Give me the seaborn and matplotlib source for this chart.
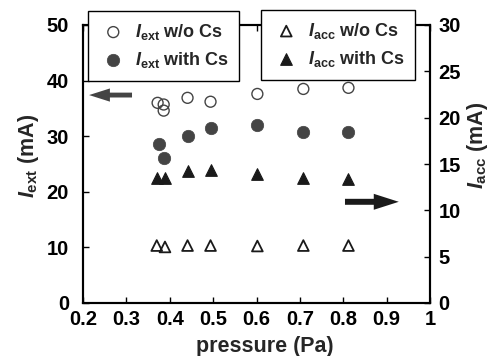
import matplotlib
matplotlib.use("Agg")
import matplotlib.pyplot as plt
import seaborn as sns
import numpy as np

# ---- data ----
p_ext_wo = [0.372, 0.386, 0.386, 0.441, 0.494, 0.602, 0.708, 0.812]
i_ext_wo = [36.0, 35.7, 34.6, 36.9, 36.2, 37.6, 38.5, 38.7]
p_ext_cs = [0.375, 0.386, 0.441, 0.494, 0.602, 0.708, 0.812]
i_ext_cs = [28.6, 26.1, 30.1, 31.5, 32.0, 30.8, 30.8]
p_acc_wo = [0.370, 0.389, 0.441, 0.494, 0.602, 0.708, 0.812]
i_acc_wo = [6.2, 6.05, 6.2, 6.2, 6.15, 6.2, 6.2]
p_acc_cs = [0.370, 0.390, 0.441, 0.494, 0.602, 0.708, 0.812]
i_acc_cs = [13.45, 13.45, 14.2, 14.35, 13.9, 13.5, 13.4]

x_ticks = [0.2, 0.3, 0.4, 0.5, 0.6, 0.7, 0.8, 0.9, 1.0]
x_ticklabels = ["0.2", "0.3", "0.4", "0.5", "0.6", "0.7", "0.8", "0.9", "1"]
left_ticks = [0, 10, 20, 30, 40, 50]
right_ticks = [0, 5, 10, 15, 20, 25, 30]

sns.set_style("ticks")
plt.rcParams["font.family"] = ["Liberation Sans", "DejaVu Sans"]
plt.rcParams["font.weight"] = "bold"
plt.rcParams["mathtext.fontset"] = "custom"
plt.rcParams["mathtext.rm"] = "Liberation Sans:bold"
plt.rcParams["mathtext.it"] = "Liberation Sans:italic:bold"
plt.rcParams["mathtext.bf"] = "Liberation Sans:bold"

W, H = 496, 356
fig = plt.figure(figsize=(W / 100, H / 100), dpi=100)
ax = fig.add_axes([83 / W, 1 - 303 / H, (430 - 83) / W, (303 - 25) / H])
ax2 = ax.twinx()

fs_tick = 14.5
fs_label = 15.5
fs_leg = 13
gray = "#444444"
dark = "#1a1a1a"

sns.scatterplot(x=p_ext_wo, y=i_ext_wo, ax=ax, marker="o", s=62,
                color="white", edgecolor=gray, linewidth=1.0, legend=False)
ax.collections[-1].set_facecolor("none")
h1 = ax.collections[-1]
sns.scatterplot(x=p_ext_cs, y=i_ext_cs, ax=ax, marker="o", s=80,
                color=gray, edgecolor=gray, linewidth=0.5, legend=False)
h2 = ax.collections[-1]
sns.scatterplot(x=p_acc_wo, y=i_acc_wo, ax=ax2, marker="^", s=60,
                color="white", edgecolor=dark, linewidth=1.3, legend=False)
ax2.collections[-1].set_facecolor("none")
h3 = ax2.collections[-1]
sns.scatterplot(x=p_acc_cs, y=i_acc_cs, ax=ax2, marker="^", s=70,
                color=dark, edgecolor=dark, linewidth=0.8, legend=False)
h4 = ax2.collections[-1]

ax.set_xlim(0.2, 1.0)
ax.set_ylim(0, 50)
ax2.set_ylim(0, 30)
ax.set_xticks(x_ticks)
ax.set_xticklabels(x_ticklabels)
ax.set_yticks(left_ticks)
ax2.set_yticks(right_ticks)

for a in (ax, ax2):
    for s in a.spines.values():
        s.set_linewidth(1.5)
        s.set_color("black")
ax.tick_params(axis="x", direction="in", top=True, bottom=True, length=4, width=1,
               labelsize=fs_tick, pad=5, colors="black")
ax.tick_params(axis="y", direction="in", left=True, right=False, length=4, width=1,
               labelsize=fs_tick, pad=10, colors="black")
ax2.tick_params(axis="y", direction="in", right=True, left=False, length=4, width=1,
                labelsize=fs_tick, pad=6, colors="black")
for lab in ax.get_xticklabels() + ax.get_yticklabels() + ax2.get_yticklabels():
    lab.set_fontweight("bold")

ax.set_xlabel("pressure (Pa)", fontsize=fs_label, fontweight="bold")
ax.xaxis.set_label_coords(0.524, -0.12)
ax.set_ylabel(r"$I_{\rm ext}$ (mA)", fontsize=fs_label, fontweight="bold")
ax.yaxis.set_label_coords(-0.12, 0.53)
ax2.set_ylabel(r"$I_{\rm acc}$ (mA)", fontsize=fs_label, fontweight="bold")
ax2.yaxis.set_label_coords(1.10, 0.568)

# arrows
ax.annotate("", xy=(0.214, 37.4), xytext=(0.313, 37.4),
            arrowprops=dict(arrowstyle="simple,head_length=15,head_width=9.5,tail_width=3.5",
                            mutation_scale=1, color=gray, lw=0, shrinkA=0, shrinkB=0))
ax.annotate("", xy=(0.928, 18.2), xytext=(0.804, 18.2),
            arrowprops=dict(arrowstyle="simple,head_length=18,head_width=11.5,tail_width=4.3",
                            mutation_scale=1, color=dark, lw=0, shrinkA=0, shrinkB=0))

leg_kw = dict(frameon=True, fancybox=False, borderaxespad=0,
              handletextpad=0.4, handlelength=1.6, labelspacing=0.45, borderpad=0.6,
              bbox_transform=fig.transFigure, loc="upper left", mode="expand",
              prop={"weight": "bold", "size": fs_leg})
hh = 0.01
leg1 = ax2.legend([h1, h2], [r"$I_{\rm ext}$ w/o Cs", r"$I_{\rm ext}$ with Cs"],
                  bbox_to_anchor=(88 / W, 1 - 11 / H - hh, (239 - 88) / W, hh), **leg_kw)
leg1.get_frame().set_edgecolor("black")
leg1.get_frame().set_linewidth(1.0)
leg1.get_frame().set_alpha(1)
ax2.add_artist(leg1)
leg2 = ax2.legend([h3, h4], [r"$I_{\rm acc}$ w/o Cs", r"$I_{\rm acc}$ with Cs"],
                  bbox_to_anchor=(261 / W, 1 - 10 / H - hh, (415 - 261) / W, hh), **leg_kw)
leg2.get_frame().set_edgecolor("black")
leg2.get_frame().set_linewidth(1.0)
leg2.get_frame().set_alpha(1)
for leg in (leg1, leg2):
    leg.set_zorder(10)

fig.savefig("out.png", dpi=100)
